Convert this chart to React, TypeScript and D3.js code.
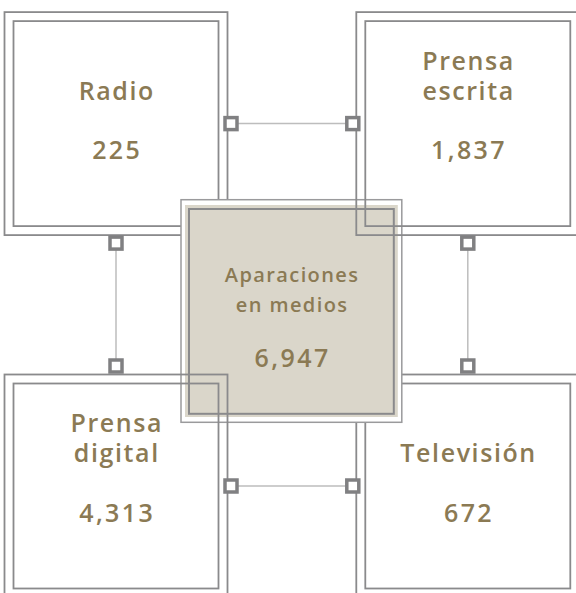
import React from "react";
import * as d3 from "d3";

const categories: string[][] = [["Radio"], ["Prensa", "escrita"], ["Prensa", "digital"], ["Televisión"]];
const values: number[] = [225, 1837, 4313, 672];
const columns: string[] = ["left", "right", "left", "right"];
const rows: string[] = ["top", "top", "bottom", "bottom"];
const centerLabel: string[] = ["Aparaciones", "en medios"];
const centerValue = 6947;

const W = 576;
const H = 593;
const TEXT = "#8b7a54";
const LINE = "#8a8a8c";
const BEIGE = "#dad6ca";
const FONT = "'Open Sans', 'Noto Sans', sans-serif";

export default function App() {
  const x = d3.scalePoint<string>().domain(["left", "right"]).range([116, 467.8]);
  const y = d3.scalePoint<string>().domain(["top", "bottom"]).range([123.6, 486]);
  const fmt = d3.format(",");
  const inner = 102.5;
  const outer = 111.5;
  const LS = 1.6;
  const NLS = 2.4;

  const box = (i: number, showText: boolean, showLines: boolean) => {
    const cx = x(columns[i])!;
    const cy = y(rows[i])!;
    const lines = categories[i];
    const lh = 30;
    return (
      <g key={`b${i}-${showText}-${showLines}`}>
        {showLines && (
          <>
            <rect x={cx - outer} y={cy - outer} width={outer * 2} height={outer * 2} fill="none" stroke={LINE} strokeWidth={1.8} />
            <rect x={cx - inner} y={cy - inner} width={inner * 2} height={inner * 2} fill="none" stroke={LINE} strokeWidth={1.8} />
          </>
        )}
        {showText && (
          <>
            <text textAnchor="middle" fontFamily={FONT} fontWeight={600} fontSize={25} fill={TEXT} letterSpacing={LS}>
              {lines.map((t, k) => (
                <tspan key={k} x={cx + LS / 2} y={cy - 24 - (lines.length - 1 - k) * lh}>
                  {t}
                </tspan>
              ))}
            </text>
            <text x={cx + NLS / 2} y={cy + 35.5} textAnchor="middle" fontFamily={FONT} fontWeight={600} fontSize={25} fill={TEXT} letterSpacing={NLS}>
              {fmt(values[i])}
            </text>
          </>
        )}
      </g>
    );
  };

  const ccx = 291.4;
  const ccy = 311;
  const sq = 12;
  const connector = (x1: number, y1: number, x2: number, y2: number, key: string) => (
    <g key={key}>
      <line x1={x1} y1={y1} x2={x2} y2={y2} stroke="#bdbdbd" strokeWidth={1.5} />
      {[[x1, y1], [x2, y2]].map(([px, py], k) => (
        <rect key={k} x={px - sq / 2} y={py - sq / 2} width={sq} height={sq} fill="#fff" stroke="#808082" strokeWidth={3.5} />
      ))}
    </g>
  );

  const xl = x("left")!;
  const xr = x("right")!;
  const yt = y("top")!;
  const yb = y("bottom")!;
  const CLS = 1.4;

  return (
    <svg width={W} height={H} style={{ position: "absolute", left: 0, top: 0 }} xmlns="http://www.w3.org/2000/svg">
      <rect width={W} height={H} fill="#fff" />
      {box(0, false, true)}
      {box(3, false, true)}
      {/* center box */}
      <rect x={ccx - 110.4} y={ccy - 111.3} width={220.8} height={222.6} fill="#fff" stroke="#9a9a9c" strokeWidth={1.5} />
      <rect x={ccx - 106.4} y={ccy - 106} width={212.8} height={212} fill={BEIGE} />
      <rect x={ccx - 102.4} y={ccy - 102} width={204.8} height={204.8} fill="none" stroke={LINE} strokeWidth={2} />
      {box(1, false, true)}
      {box(2, false, true)}
      {box(0, true, false)}
      {box(1, true, false)}
      {box(2, true, false)}
      {box(3, true, false)}
      <text textAnchor="middle" fontFamily={FONT} fontWeight={600} fontSize={20} fill={TEXT} letterSpacing={CLS}>
        {centerLabel.map((t, k) => (
          <tspan key={k} x={ccx + CLS / 2} y={281.7 + k * 30}>
            {t}
          </tspan>
        ))}
      </text>
      <text x={ccx + NLS / 2} y={366.5} textAnchor="middle" fontFamily={FONT} fontWeight={600} fontSize={25} fill={TEXT} letterSpacing={NLS}>
        {fmt(centerValue)}
      </text>
      {connector(xl + 115, yt, xr - 115, yt, "ct")}
      {connector(xl + 115, yb, xr - 115, yb, "cb")}
      {connector(xl, yt + 119.5, xl, yb - 120, "cl")}
      {connector(xr, yt + 119.5, xr, yb - 120, "cr")}
    </svg>
  );
}
